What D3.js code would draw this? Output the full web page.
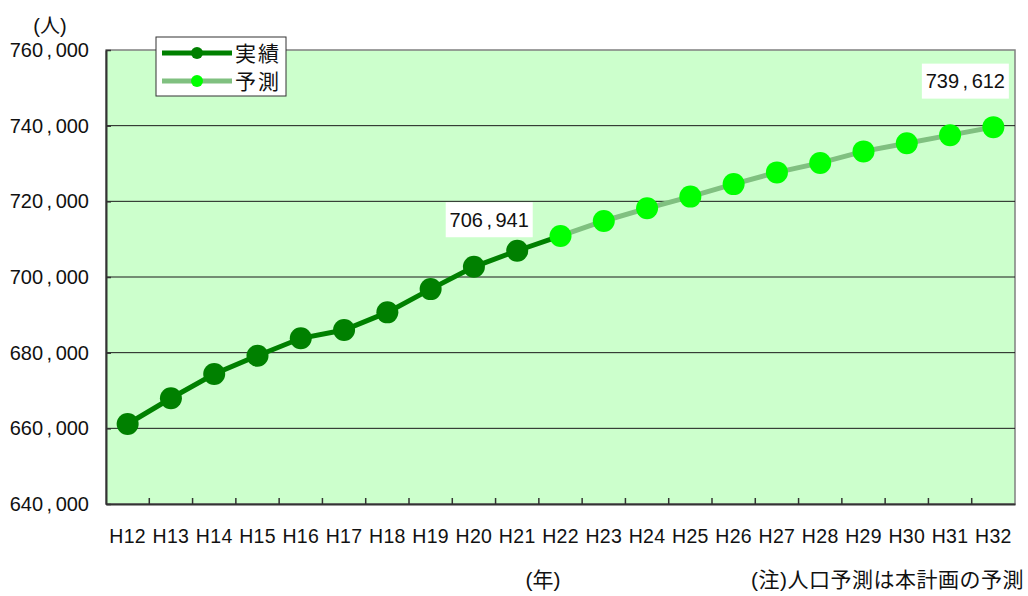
<!DOCTYPE html>
<html>
<head>
<meta charset="utf-8">
<script src="https://cdn.jsdelivr.net/npm/d3@7"></script>
<style>
  html, body { margin: 0; padding: 0; background: #fff; }
  svg { display: block; }
  text { font-family: "Liberation Sans", "Noto Sans CJK JP", sans-serif; fill: #111; }
  .jp { font-family: "Liberation Sans", "Noto Sans CJK JP", sans-serif; }
</style>
</head>
<body>
<svg id="chart" width="1028" height="596"></svg>
<script>
// Population by year (persons): recorded values and plan forecast
const years = ["H12","H13","H14","H15","H16","H17","H18","H19","H20","H21",
               "H22","H23","H24","H25","H26","H27","H28","H29","H30","H31","H32"];
const actualYears = ["H12","H13","H14","H15","H16","H17","H18","H19","H20","H21"];
const actualValues = [661150, 667950, 674350, 679200, 683800, 686000, 690650, 696800, 702700, 706941];
const forecastYears = ["H22","H23","H24","H25","H26","H27","H28","H29","H30","H31","H32"];
const forecastValues = [710850, 714800, 718150, 721250, 724550, 727650, 730150, 733200, 735350, 737500, 739612];
const yTicks = [640000, 660000, 680000, 700000, 720000, 740000, 760000];
const legendLabels = ["実績", "予測"];
const unitLabel = "(人)";
const xTitle = "(年)";
const noteText = "(注)人口予測は本計画の予測";

const colActual = "#008000";
const colForecastLine = "#80c080";
const colForecastDot = "#00ff00";
const commaPad = 3.5;

const svg = d3.select("#chart");
const plot = { left: 106, right: 1015, top: 50, bottom: 504 };

const x = d3.scaleBand().domain(years).range([plot.left, plot.right]);
const cx = d => x(d) + x.bandwidth() / 2;
const y = d3.scaleLinear().domain([640000, 760000]).range([plot.bottom, plot.top]);

// numbers drawn with a roomy comma cell
function spacedNumber(sel, v) {
  const parts = d3.format(",")(v).split(",");
  parts.forEach((p, i) => {
    if (i > 0) sel.append("tspan").attr("dx", commaPad).text(",");
    sel.append("tspan").attr("dx", i > 0 ? commaPad : 0).text(p);
  });
}

// plot area
svg.append("rect")
  .attr("x", plot.left).attr("y", plot.top)
  .attr("width", plot.right - plot.left).attr("height", plot.bottom - plot.top)
  .attr("fill", "#ccffcc").attr("stroke", "#808080").attr("stroke-width", 1.5);

// horizontal gridlines
svg.append("g").selectAll("line")
  .data(yTicks.filter(t => t > 640000 && t < 760000))
  .join("line")
  .attr("x1", plot.left).attr("x2", plot.right)
  .attr("y1", d => y(d)).attr("y2", d => y(d))
  .attr("stroke", "#1a1a1a").attr("stroke-width", 1);

// y axis
const yAxis = svg.append("g")
  .attr("transform", `translate(${plot.left},0)`)
  .call(d3.axisLeft(y).tickValues(yTicks).tickSizeInner(-5).tickSizeOuter(0).tickPadding(17));
yAxis.select(".domain").attr("stroke", "#333").attr("stroke-width", 2);
yAxis.selectAll(".tick line").attr("stroke", "#333").attr("stroke-width", 1.5);
yAxis.selectAll(".tick text")
  .attr("font-size", 20).attr("fill", "#111")
  .style("font-family", "'Liberation Sans', sans-serif")
  .text(null)
  .each(function(d) { spacedNumber(d3.select(this), d); });

// x axis: labels at band centres, ticks on band boundaries
const xAxis = svg.append("g")
  .attr("transform", `translate(0,${plot.bottom})`)
  .call(d3.axisBottom(x).tickSize(0).tickPadding(25));
xAxis.select(".domain").attr("stroke", "#333").attr("stroke-width", 2);
xAxis.selectAll(".tick text")
  .attr("font-size", 19.5).attr("fill", "#111")
  .attr("letter-spacing", 0.3)
  .style("font-family", "'Liberation Sans', sans-serif");
xAxis.append("g").selectAll("line")
  .data(years.slice(1))
  .join("line")
  .attr("x1", d => x(d)).attr("x2", d => x(d))
  .attr("y1", 0).attr("y2", -6)
  .attr("stroke", "#333").attr("stroke-width", 1.5);

const line = d3.line().x(d => cx(d[0])).y(d => y(d[1]));
const actualPts = actualYears.map((k, i) => [k, actualValues[i]]);
const forecastPts = forecastYears.map((k, i) => [k, forecastValues[i]]);

// forecast line
svg.append("path")
  .datum(forecastPts)
  .attr("d", line)
  .attr("fill", "none").attr("stroke", colForecastLine).attr("stroke-width", 5);

// recorded line, joined to the first forecast year
svg.append("path")
  .datum(actualPts.concat([forecastPts[0]]))
  .attr("d", line)
  .attr("fill", "none").attr("stroke", colActual).attr("stroke-width", 5);

svg.append("g").selectAll("circle")
  .data(actualPts).join("circle")
  .attr("cx", d => cx(d[0])).attr("cy", d => y(d[1])).attr("r", 11)
  .attr("fill", colActual);

svg.append("g").selectAll("circle")
  .data(forecastPts).join("circle")
  .attr("cx", d => cx(d[0])).attr("cy", d => y(d[1])).attr("r", 11)
  .attr("fill", colForecastDot);

// value labels on the last recorded year and the final forecast year
const valueLabels = [
  { pt: actualPts[actualPts.length - 1], dx: -28, dy: -31 },
  { pt: forecastPts[forecastPts.length - 1], dx: -28, dy: -46 }
];
valueLabels.forEach(l => {
  const lx = cx(l.pt[0]) + l.dx, ly = y(l.pt[1]) + l.dy;
  const g = svg.append("g");
  g.append("rect")
    .attr("x", lx - 43.5).attr("y", ly - 17.5)
    .attr("width", 87).attr("height", 35).attr("fill", "#fff");
  const t = g.append("text")
    .attr("x", lx).attr("y", ly).attr("dy", "0.36em")
    .attr("text-anchor", "middle").attr("font-size", 20)
    .style("font-family", "'Liberation Sans', sans-serif");
  spacedNumber(t, l.pt[1]);
});

// legend
const lg = svg.append("g").attr("transform", "translate(156,37)");
lg.append("rect").attr("width", 130).attr("height", 59)
  .attr("fill", "#fff").attr("stroke", "#333").attr("stroke-width", 1);
const legendRows = [
  { label: legendLabels[0], line: colActual, dot: colActual, ly: 16 },
  { label: legendLabels[1], line: colForecastLine, dot: colForecastDot, ly: 44 }
];
legendRows.forEach(r => {
  lg.append("line").attr("x1", 6).attr("x2", 76).attr("y1", r.ly).attr("y2", r.ly)
    .attr("stroke", r.line).attr("stroke-width", 5);
  lg.append("circle").attr("cx", 41).attr("cy", r.ly).attr("r", 6).attr("fill", r.dot);
  lg.append("text").attr("x", 79).attr("y", r.ly).attr("dy", "0.36em")
    .attr("font-size", 21).attr("letter-spacing", 2).attr("class", "jp").text(r.label);
});

// unit, axis title, note
svg.append("text").attr("x", 50).attr("y", 26).attr("dy", "0.36em")
  .attr("text-anchor", "middle").attr("font-size", 20).text(unitLabel);
svg.append("text").attr("x", 543).attr("y", 579).attr("dy", "0.36em")
  .attr("text-anchor", "middle").attr("font-size", 21).text(xTitle);
svg.append("text").attr("x", 1024).attr("y", 579).attr("dy", "0.36em")
  .attr("text-anchor", "end").attr("font-size", 21).attr("letter-spacing", 0.5).text(noteText);
</script>
</body>
</html>
